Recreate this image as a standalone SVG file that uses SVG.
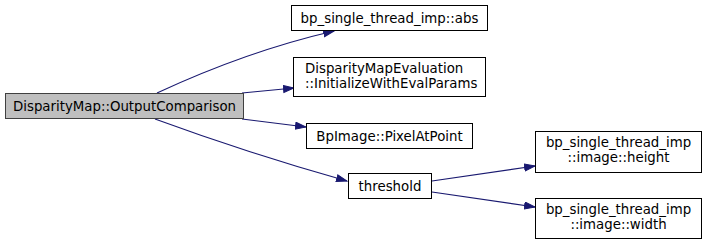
<svg xmlns="http://www.w3.org/2000/svg" width="707" height="245" viewBox="0 0 707 245">
  <style>
    .node rect { fill: #ffffff; stroke: #000000; stroke-width: 1; }
    .node.root rect { fill: #bfbfbf; stroke: #404040; }
    .node text { font-family: "DejaVu Sans", "Liberation Sans", sans-serif; font-size: 13.33px; fill: #000000; text-anchor: middle; }
    .node text.left { text-anchor: start; }
    .edges path { fill: none; stroke: #191970; stroke-width: 1.1; marker-end: url(#arrow); }
  </style>
  <defs>
    <marker id="arrow" markerUnits="userSpaceOnUse" markerWidth="12" markerHeight="9" refX="11" refY="4" orient="auto">
      <path d="M0.5,0.5 L11,4 L0.5,7.5 z" fill="#191970" stroke="#191970"/>
    </marker>
  </defs>
  <rect width="707" height="245" fill="#ffffff"/>

  <g class="edges">
    <path d="M157,93 C200,73 265,47 334,31"/>
    <path d="M242,93 L294,88"/>
    <path d="M242,119 L306,127"/>
    <path d="M155,119 C215,141 290,165 347,181"/>
    <path d="M432,181 L535,166"/>
    <path d="M432,192 L535,207"/>
  </g>

  <g id="node-output-comparison" class="node root">
    <rect x="5.5" y="93.5" width="238" height="25"/>
    <text x="124.5" y="110.5">DisparityMap::OutputComparison</text>
  </g>
  <g id="node-abs" class="node">
    <rect x="291.5" y="5.5" width="196" height="25"/>
    <text x="389.5" y="22.5">bp_single_thread_imp::abs</text>
  </g>
  <g id="node-initialize" class="node">
    <rect x="293.5" y="57.5" width="192" height="39"/>
    <text class="left" x="305" y="73">DisparityMapEvaluation</text>
    <text class="left" x="305" y="88">::InitializeWithEvalParams</text>
  </g>
  <g id="node-pixel-at-point" class="node">
    <rect x="306.5" y="123.5" width="166" height="25"/>
    <text x="389.5" y="140.5">BpImage::PixelAtPoint</text>
  </g>
  <g id="node-threshold" class="node">
    <rect x="348.5" y="173.5" width="83" height="25"/>
    <text x="390" y="190.5">threshold</text>
  </g>
  <g id="node-image-height" class="node">
    <rect x="535.5" y="131.5" width="166" height="41"/>
    <text x="618.5" y="147">bp_single_thread_imp</text>
    <text x="618.5" y="162">::image::height</text>
  </g>
  <g id="node-image-width" class="node">
    <rect x="535.5" y="198.5" width="166" height="40"/>
    <text x="618.5" y="214">bp_single_thread_imp</text>
    <text x="618.5" y="229">::image::width</text>
  </g>
</svg>
